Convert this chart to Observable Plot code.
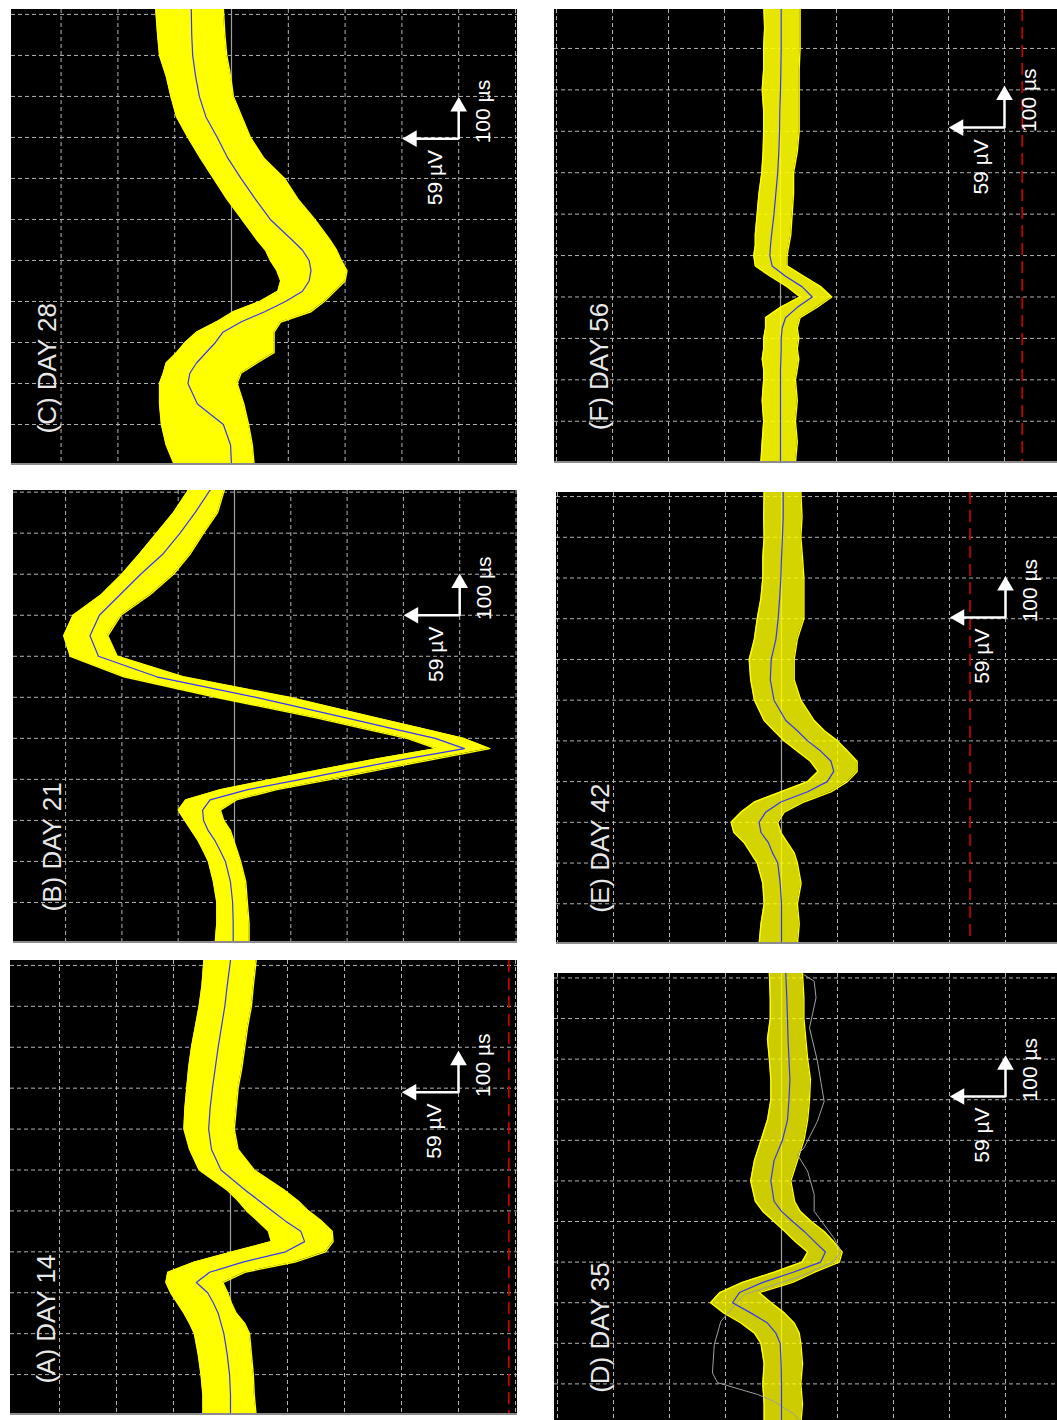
<!DOCTYPE html>
<html><head><meta charset="utf-8">
<script src="https://cdn.jsdelivr.net/npm/d3@7"></script>
<script src="https://cdn.jsdelivr.net/npm/@observablehq/plot@0.6"></script>
<style>
html,body{margin:0;padding:0;background:#fff;}
#root{position:relative;width:1057px;height:1420px;overflow:hidden;}
.panel{position:absolute;overflow:hidden;background:#000;box-sizing:border-box;border-bottom:2px solid #8c8c8c;}
.panel svg{display:block;max-width:none;}
</style></head><body><div id="root"></div>
<script>
// ---------------- DATA (µV vs µs) ----------------
const T = [0,50,100,150,200,225,250,275,300,325,350,375,400,425,450,475,500,525,550,600,650,700,750,800,850,900,950,1000,1050,1112];

const meanA = [0,0,1,3.5,7,10,13,18,24,36,22,-13,-58,-78,-74,-58,-44,-30,-16,10,20,23,21.5,19,16,13,9.5,6,3.5,0];
const loA   = [-27,-25,-24,-22,-20,-15,-6,-1,3,8,-15,-68,-100,-108,-107,-96,-82,-71,-57,-25,-8,-4,-6,-8,-12,-15,-18,-22,-24,-27];
const hiA   = [29,29,31,34,38,43,49,56,63,68,66,38,-2,-43,-40,-29,-17,-8,3,33,43,49,48,46,44,41,37,33,30,28];

const meanB = [1.4,1.4,2,4.3,9.7,15,20.6,28,33,34,26,-14,-71,-126,-183,-245,-214,-166,-119,-23,83,145,154,144,122,100,76,58,42,24];
const loB   = [-15.5,-15.5,-13.7,-12,-6.5,-3,0.7,4.3,11.5,15,-2,-45,-103,-158,-215,-272,-244,-198,-151,-58,55,125,135,121,90,65,47,33,18,10];
const hiB   = [20.6,18.8,18.8,22.4,27.8,33,38.6,45.8,53,60,52,15,-40,-95,-152,-215,-184,-135,-87,20,118,175,182,172,142,120,101,83,65,47];

const meanC = [0,1,8.6,36,46,44,37,27,17,9,-10,-35,-57,-75,-82,-84,-82,-75,-64,-41,-25,-10,4,15,27,34,38,41,42,42.5];
const loC   = [-24,-22,-18,-13,-6,-10,-27,-45,-45,-45,-52,-84,-98,-109,-120,-122,-116,-111,-104,-88,-70,-56,-34,-20,-11,-2,1,5,7,8.5];
const hiC   = [60,69,74,76,76,72,69,58,49,37,16,-2,-30,-49,-52,-48,-41,-36,-27,-11,5,19,33,46,58,64,69,76,78,80];

const meanD = [0,0,0,0.4,1.4,6,15,33,52.5,45,20,-12.5,-42,-47,-35.7,-24.6,-12,0,8,11.4,8,-1,-6.4,-8,-9,-8,-7,-6.4,-5.7,-4.6];
const loD   = [-20.7,-22.5,-20.7,-22.5,-20.7,-19,-13.6,-3,11,24,-12,-35,-62,-65,-56,-46,-32,-20,-14,-10,-17,-24,-28,-30,-31,-28,-26,-24,-24,-22.5];
const hiD   = [18.6,18.6,20,18.6,22,29,43.5,62,76,66,42,8,-22,-28,-15,-4,8,20,28,33,29,22,15,11.4,11.4,13,15,12,12,13];

const meanE = [0,0,0,1.4,4,9.6,14,22,24,17,0.7,-28,-49,-56,-53,-42,-28,-17,-4.6,8,12,11,6,3.6,2,0.7,0,-1,-1.8,-1.8];
const loE   = [-17,-19,-17,-21,-17,-13.6,-6.4,0.7,4,-3,-24,-53,-70.7,-81,-81,-70.7,-60,-46,-35,-20.7,-13.6,-13.6,-17,-24,-24,-24,-22.5,-20.7,-22,-20.7];
const hiE   = [24,22,18.6,20,26,33,40,51,54,43.5,29,0.7,-28,-39,-31,-17,-3,8,18.6,29,33,34.6,29,26,22,20,20,18.6,19,18.6];

const meanF = [0,0,0,0,0,0,-0.4,-0.7,-0.7,-1.8,-5.4,-18,-34,-23,-5.4,9,11.4,10.7,9.6,7,5,3,1.8,1,0.7,0,-0.4,-0.7,-0.7,-0.7];
const loF   = [-16,-18,-16,-18,-16,-18,-19.6,-18,-19.6,-18,-21,-39,-55,-43,-25,-7,-7,-9,-11,-12.5,-14,-14,-18,-20,-20,-20,-20,-21,-21,-21];
const hiF   = [21,19.6,18,19.6,18,18,19.6,18,18,16,16,0,-21,-7,11,27,28.6,27,27,25,23,20,18.6,18,18,19.6,18,18,17,18];

// outlier (grey) trace in panel D
const grayDV = [-24,-35,-37,-30,-38.5,-45.7,-38.5,-24,-17,-28,-35,-35,-56,-63.5,-56,-20,40,65,72,74,68.5,25.7,8,-13.6,-20.7];
const grayDT = [1108,1092,1051,977,895,796,747,681,665,624,567,525,460,427,402,365,320,254,197,127,103,74,57,25,4];

// detection thresholds (µV) where visible
const thresholds = {A: -293, E: -202, F: -259};

const labels = {A:"(A) DAY 14", B:"(B) DAY 21", C:"(C) DAY 28", D:"(D) DAY 35", E:"(E) DAY 42", F:"(F) DAY 56"};
const scaleV = 59, scaleT = 100;          // scale bar: 59 µV, 100 µs
const scaleText = ["59 µV", "100 µs"];
const vTicks = [240,180,120,60,-60,-120,-180,-240,-300];
const tTicks = [100,200,300,400,500,600,700,800,900,1000,1100];

// ---------------- LAYOUT ----------------
const layout = {
  A:{left:10, top:960, width:507, height:455, base:220, px60:57.0, t0:0, t1:1112, sbT:790, op:1},
  B:{left:13, top:490, width:504, height:453, base:221, px60:56.3, t0:0, t1:1104, sbT:800, op:1},
  C:{left:11, top:9,   width:506, height:456, base:220, px60:56.8, t0:0, t1:1112, sbT:797, op:1},
  D:{left:554,top:973, width:503, height:451, base:227, px60:56.0, t0:0, t1:1111, sbT:808, op:0.8},
  E:{left:556,top:492, width:501, height:452, base:225, px60:56.0, t0:0, t1:1110, sbT:803, op:0.83},
  F:{left:554,top:9,   width:503, height:454, base:226, px60:56.0, t0:-2, t1:1094, sbT:809, op:0.9}
};
const series = {
  A:[meanA,loA,hiA], B:[meanB,loB,hiB], C:[meanC,loC,hiC],
  D:[meanD,loD,hiD], E:[meanE,loE,hiE], F:[meanF,loF,hiF]
};
const FONT = "Liberation Sans, Arial, Helvetica, sans-serif";
const root = document.getElementById("root");

for (const key of ["C","B","A","F","E","D"]) {
  const L = layout[key];
  const [m, lo, hi] = series[key];
  const data = T.map((t,i)=>({t, mean:m[i], lo:lo[i], hi:hi[i]}));
  const xDom = [L.base/L.px60*60, -(L.width-L.base)/L.px60*60];
  const corner = [{v:-240, t:L.sbT}];
  const marks = [
    Plot.ruleX(vTicks, {stroke:"#b4b4b4", strokeDasharray:"4,3", strokeWidth:1}),
    Plot.ruleY(tTicks, {stroke:"#b4b4b4", strokeDasharray:"4,3", strokeWidth:1}),
    Plot.ruleX([0], {stroke:"#a0a0a0", strokeWidth:1.2})
  ];
  if (thresholds[key] != null)
    marks.push(Plot.ruleX([thresholds[key]], {stroke:"#d40000", strokeWidth:1.6, strokeDasharray:"12,6"}));
  marks.push(Plot.areaX(data, {y:"t", x1:"lo", x2:"hi", fill:"#ffff00", fillOpacity:L.op}));
  marks.push(Plot.lineX(data, {x:"lo", y:"t", stroke:"#ffff00", strokeWidth:1.4}));
  marks.push(Plot.lineX(data, {x:"hi", y:"t", stroke:"#ffff00", strokeWidth:1.4}));
  if (key === "D") {
    const g = grayDV.map((v,i)=>({v, t:grayDT[i]}));
    marks.push(Plot.line(g, {x:"v", y:"t", stroke:"#a0a0a0", strokeWidth:1}));
  }
  marks.push(Plot.lineX(data, {x:"mean", y:"t", stroke:"#3434ff", strokeWidth:1.2}));
  // scale bar
  marks.push(Plot.link(corner, {x1:d=>d.v, y1:d=>d.t, x2:d=>d.v+scaleV*0.8, y2:d=>d.t, stroke:"white", strokeWidth:2.5}));
  marks.push(Plot.link(corner, {x1:d=>d.v, y1:d=>d.t-1.5, x2:d=>d.v, y2:d=>d.t+scaleT*0.75, stroke:"white", strokeWidth:2.5}));
  marks.push(Plot.dot(corner, {x:d=>d.v+scaleV, y:d=>d.t, symbol:"triangle", r:6.2, fill:"white", stroke:null, rotate:-90, dx:9}));
  marks.push(Plot.dot(corner, {x:d=>d.v, y:d=>d.t+scaleT, symbol:"triangle", r:6.2, fill:"white", stroke:null, dy:9}));
  marks.push(Plot.text(corner, {x:d=>d.v+25, y:d=>d.t-95, text:()=>scaleText[0], rotate:-90, fill:"white", fontSize:21, fontFamily:FONT, textAnchor:"middle", lineAnchor:"middle"}));
  marks.push(Plot.text(corner, {x:d=>d.v-26, y:d=>d.t+66, text:()=>scaleText[1], rotate:-90, fill:"white", fontSize:21, fontFamily:FONT, textAnchor:"middle", lineAnchor:"middle"}));
  // panel label
  marks.push(Plot.text([labels[key]], {x:()=>194, y:()=>78, text:d=>d, rotate:-90, fill:"#e8e8e8", fontSize:26, fontFamily:FONT, textAnchor:"start", lineAnchor:"middle"}));

  const svg = Plot.plot({
    width:L.width, height:L.height,
    marginTop:0, marginRight:0, marginBottom:0, marginLeft:0,
    x:{domain:xDom, axis:null},
    y:{domain:[L.t0, L.t1], axis:null},
    style:{background:"#000", fontFamily:FONT, overflow:"hidden"},
    marks
  });
  const div = document.createElement("div");
  div.className = "panel";
  div.style.left = L.left+"px"; div.style.top = L.top+"px";
  div.style.width = L.width+"px"; div.style.height = L.height+"px";
  div.appendChild(svg);
  root.appendChild(div);
}
</script></body></html>
